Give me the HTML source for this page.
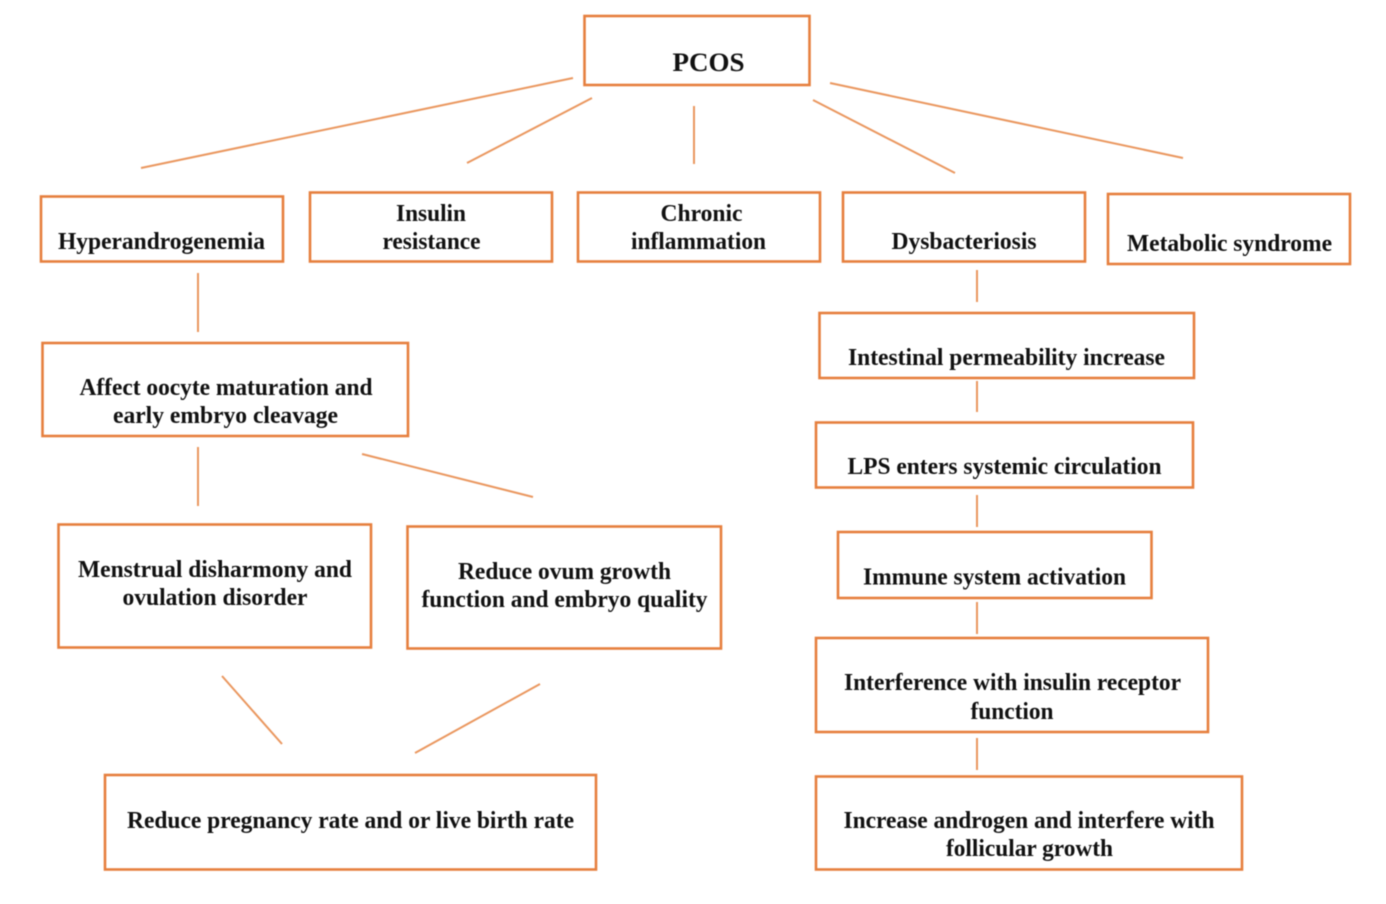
<!DOCTYPE html>
<html>
<head>
<meta charset="utf-8">
<style>
html,body{margin:0;padding:0;background:#fff;width:1386px;height:904px;overflow:hidden}
svg{display:block;filter:blur(0.45px)}
rect{fill:#fff;stroke:#e67f3e;stroke-width:2.6}
line{stroke:#ea975f;stroke-width:2}
text{font-family:"Liberation Serif",serif;font-weight:bold;font-size:24px;fill:#111;text-anchor:middle}
</style>
</head>
<body>
<svg width="1386" height="904" viewBox="0 0 1386 904" xmlns="http://www.w3.org/2000/svg">
<g>
<line x1="573" y1="78" x2="141" y2="168"/>
<line x1="592" y1="98" x2="467" y2="163"/>
<line x1="694" y1="106" x2="694" y2="164"/>
<line x1="813" y1="100" x2="955" y2="173"/>
<line x1="830" y1="83" x2="1183" y2="158"/>
<line x1="198" y1="273" x2="198" y2="332"/>
<line x1="198" y1="447" x2="198" y2="506"/>
<line x1="362" y1="454" x2="533" y2="497"/>
<line x1="222" y1="676" x2="282" y2="744"/>
<line x1="540" y1="684" x2="415" y2="753"/>
<line x1="977" y1="270" x2="977" y2="302"/>
<line x1="977" y1="381" x2="977" y2="412"/>
<line x1="977" y1="495" x2="977" y2="527"/>
<line x1="977" y1="602" x2="977" y2="634"/>
<line x1="977" y1="738" x2="977" y2="770"/>
</g>
<g>
<rect x="584.5" y="16" width="225" height="69"/>
<rect x="41" y="196.500" width="242" height="65"/>
<rect x="310" y="192.500" width="242" height="69"/>
<rect x="578" y="192.500" width="242" height="69"/>
<rect x="843" y="192.500" width="242" height="69"/>
<rect x="1108" y="194" width="242" height="70"/>
<rect x="42.500" y="343" width="365.500" height="93"/>
<rect x="58.500" y="524.500" width="312.500" height="123"/>
<rect x="407.500" y="526.500" width="313.500" height="122"/>
<rect x="105" y="775" width="491" height="94.500"/>
<rect x="819.500" y="313" width="374.500" height="65"/>
<rect x="816" y="422.500" width="377" height="65"/>
<rect x="838" y="532" width="313.500" height="66"/>
<rect x="816" y="638" width="392" height="94"/>
<rect x="816" y="776.500" width="426" height="93"/>
</g>
<g>
<text x="708.500" y="71" textLength="72" lengthAdjust="spacingAndGlyphs" style="font-size:26px">PCOS</text>
<text x="161.500" y="249" textLength="207" lengthAdjust="spacingAndGlyphs">Hyperandrogenemia</text>
<text x="431" y="221" textLength="70" lengthAdjust="spacingAndGlyphs">Insulin</text>
<text x="431.500" y="249" textLength="98" lengthAdjust="spacingAndGlyphs">resistance</text>
<text x="701.500" y="221" textLength="82" lengthAdjust="spacingAndGlyphs">Chronic</text>
<text x="698.500" y="249" textLength="135" lengthAdjust="spacingAndGlyphs">inflammation</text>
<text x="964" y="249" textLength="145" lengthAdjust="spacingAndGlyphs">Dysbacteriosis</text>
<text x="1229.500" y="251" textLength="205" lengthAdjust="spacingAndGlyphs">Metabolic syndrome</text>
<text x="226" y="395" textLength="293" lengthAdjust="spacingAndGlyphs">Affect oocyte maturation and</text>
<text x="225.500" y="423" textLength="225" lengthAdjust="spacingAndGlyphs">early embryo cleavage</text>
<text x="215" y="577" textLength="274" lengthAdjust="spacingAndGlyphs">Menstrual disharmony and</text>
<text x="215" y="605" textLength="185" lengthAdjust="spacingAndGlyphs">ovulation disorder</text>
<text x="564.500" y="579" textLength="213" lengthAdjust="spacingAndGlyphs">Reduce ovum growth</text>
<text x="564.500" y="607" textLength="286" lengthAdjust="spacingAndGlyphs">function and embryo quality</text>
<text x="350.500" y="828" textLength="447" lengthAdjust="spacingAndGlyphs">Reduce pregnancy rate and or live birth rate</text>
<text x="1006.500" y="365" textLength="317" lengthAdjust="spacingAndGlyphs">Intestinal permeability increase</text>
<text x="1004.500" y="474" textLength="314" lengthAdjust="spacingAndGlyphs">LPS enters systemic circulation</text>
<text x="994.500" y="584.500" textLength="263" lengthAdjust="spacingAndGlyphs">Immune system activation</text>
<text x="1012.500" y="690" textLength="337" lengthAdjust="spacingAndGlyphs">Interference with insulin receptor</text>
<text x="1012" y="719" textLength="83" lengthAdjust="spacingAndGlyphs">function</text>
<text x="1029" y="828" textLength="371" lengthAdjust="spacingAndGlyphs">Increase androgen and interfere with</text>
<text x="1029.500" y="856" textLength="167" lengthAdjust="spacingAndGlyphs">follicular growth</text>
</g>
</svg>
</body>
</html>
